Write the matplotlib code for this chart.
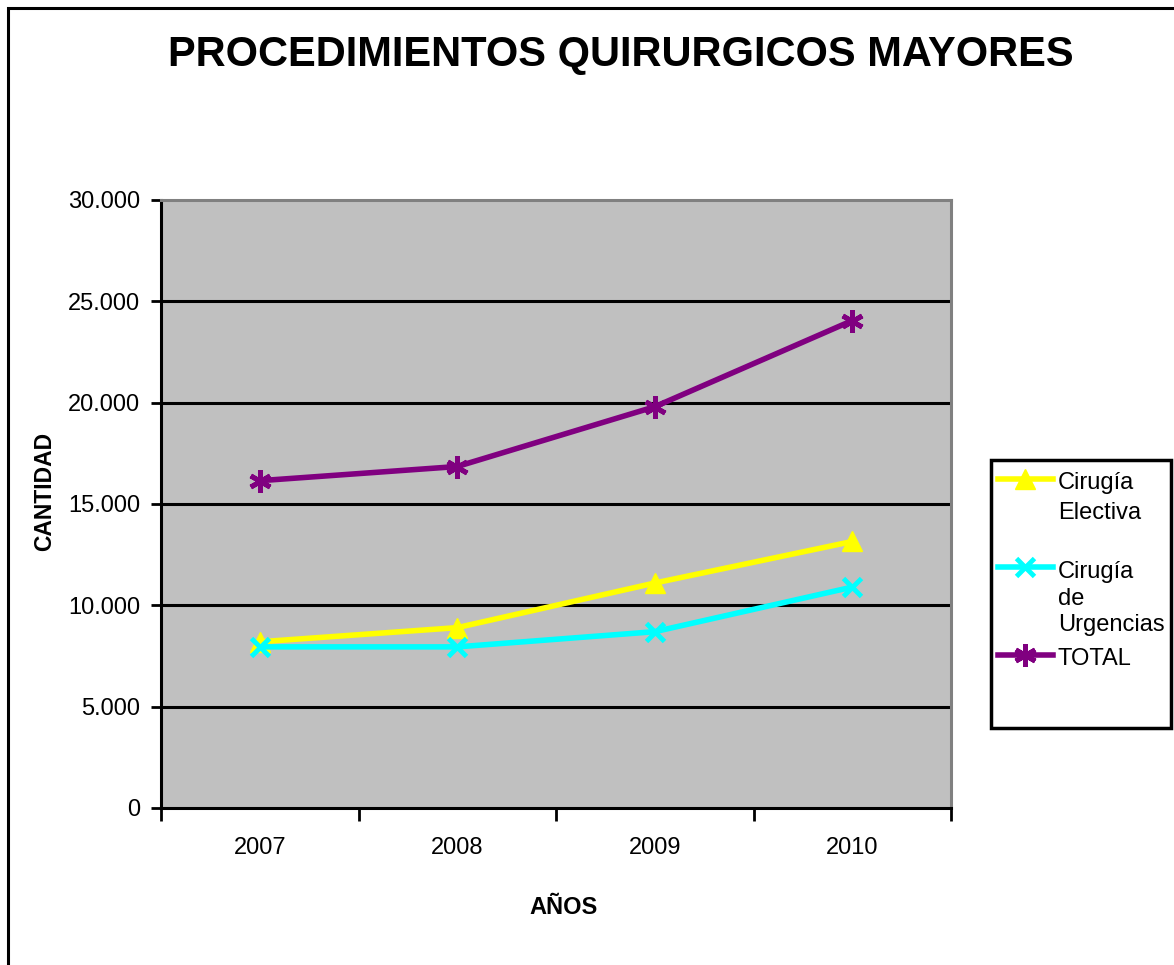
import matplotlib.pyplot as plt
from matplotlib.lines import Line2D
from matplotlib.patches import Rectangle
from matplotlib.ticker import FuncFormatter, FixedLocator

plt.rcParams["font.family"] = ["Liberation Sans", "DejaVu Sans"]

years = ["2007", "2008", "2009", "2010"]
electiva = [8200, 8900, 11100, 13150]
urgencias = [7950, 7950, 8700, 10900]
total = [16150, 16850, 19800, 24050]

W, H = 1174, 965
fig = plt.figure(figsize=(W / 100, H / 100), dpi=100)

def fx(px):
    return px / W

def fy(py):
    return 1 - py / H

# outer chart frame (cut off at right / bottom like the source)
fig.patches.append(Rectangle((fx(8), -0.1), 1.2, fy(8) + 0.1,
                             transform=fig.transFigure, fill=False,
                             edgecolor="black", linewidth=2.2, zorder=0))

ax = fig.add_axes([fx(161), fy(808), fx(951 - 161), (808 - 200) / H])
ax.set_facecolor("#c0c0c0")

styles = [
    dict(color="#ffff00", marker="^", markersize=15),
    dict(color="#00ffff", marker="x", markersize=13, markeredgewidth=3.5),
    dict(color="#800080", marker=(6, 2, 0), markersize=16, markeredgewidth=3.5),
]
x = list(range(len(years)))
for vals, st in zip([electiva, urgencias, total], styles):
    ax.plot(x, vals, linewidth=4, zorder=3, **st)

ax.set_xlim(-0.5, 3.5)
ax.set_ylim(0, 30000)
ax.set_yticks(range(0, 30001, 5000))
ax.yaxis.set_major_formatter(FuncFormatter(
    lambda v, p: "0" if v == 0 else f"{int(v):,}".replace(",", ".")))
ax.xaxis.set_major_locator(FixedLocator([-0.5, 0.5, 1.5, 2.5, 3.5]))
ax.set_xticklabels([])
for i, yr in enumerate(years):
    ax.text(i, -0.066, yr, transform=ax.get_xaxis_transform(),
            ha="center", va="center", fontsize=17)

for v in range(5000, 30000, 5000):
    ax.axhline(v, color="black", linewidth=2.2, zorder=1)

ax.tick_params(axis="y", length=7, width=2, labelsize=17, pad=8)
ax.tick_params(axis="x", length=9, width=2)
for s in ("left", "bottom"):
    ax.spines[s].set_color("black")
    ax.spines[s].set_linewidth(2.2)
for s in ("top", "right"):
    ax.spines[s].set_color("#808080")
    ax.spines[s].set_linewidth(2.2)

fig.text(fx(45), fy(491), "CANTIDAD", rotation=90, ha="center", va="center",
         fontsize=16.5, fontweight="bold")
fig.text(fx(564), fy(907), "AÑOS", ha="center", va="center",
         fontsize=17, fontweight="bold")
fig.text(fx(621), fy(55), "PROCEDIMIENTOS QUIRURGICOS MAYORES",
         ha="center", va="center", fontsize=30, fontweight="bold")

# legend box, drawn by hand so the key sits on the first text line
fig.patches.append(Rectangle((fx(991), fy(728)), 180 / W, 268 / H,
                             transform=fig.transFigure, fill=True,
                             facecolor="white", edgecolor="black",
                             linewidth=2.5, zorder=2))
legend_rows = [
    (479, ["Cirugía", "Electiva"], [489, 519]),
    (567, ["Cirugía", "de", "Urgencias"], [578, 605, 631]),
    (655, ["TOTAL"], [665]),
]
for (ky, lines, bases), st in zip(legend_rows, styles):
    fig.add_artist(Line2D([fx(998), fx(1053)], [fy(ky), fy(ky)],
                          linewidth=4, transform=fig.transFigure,
                          zorder=3, color=st["color"]))
    fig.add_artist(Line2D([fx(1025)], [fy(ky)], linestyle="none",
                          transform=fig.transFigure, zorder=4, **st))
    for txt, b in zip(lines, bases):
        fig.text(fx(1058), fy(b), txt, ha="left", va="baseline",
                 fontsize=17, zorder=4)

fig.savefig("out.png", dpi=100)
